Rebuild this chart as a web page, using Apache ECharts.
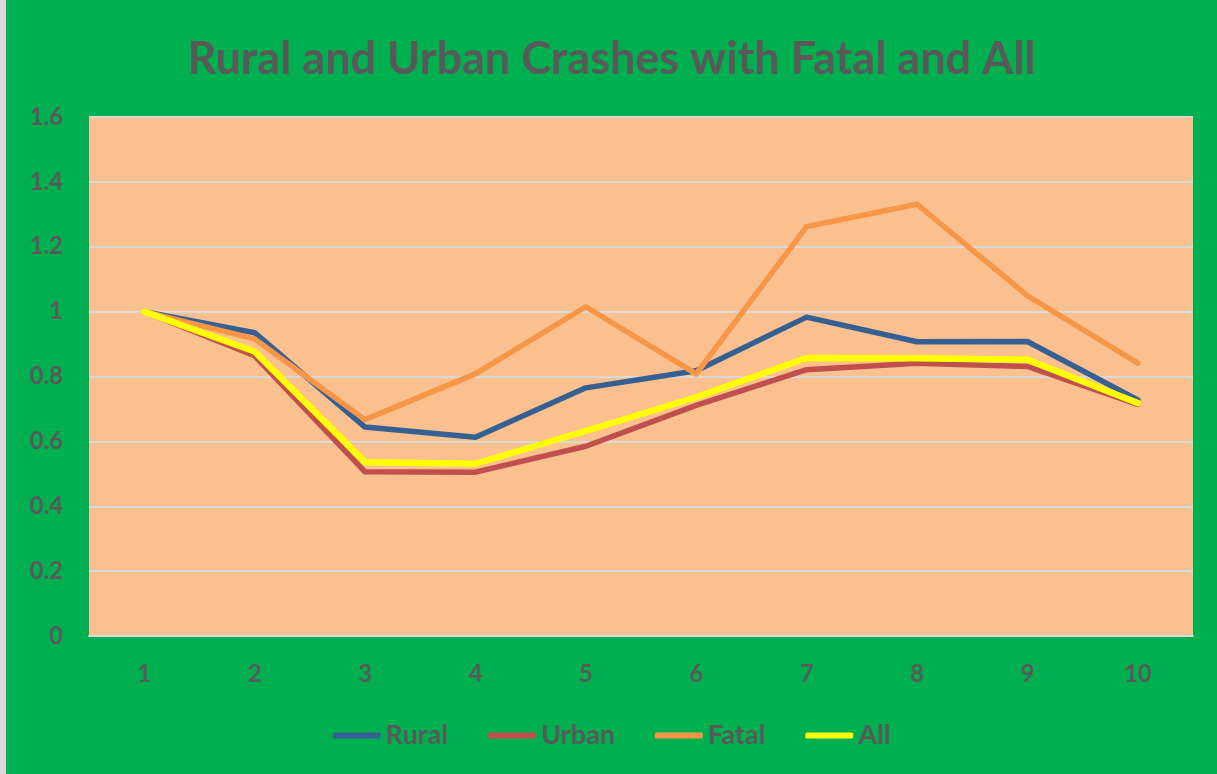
<!DOCTYPE html>
<html>
<head>
<meta charset="utf-8">
<script src="https://cdn.jsdelivr.net/npm/echarts@6/dist/echarts.min.js"></script>
<style>
  html, body { margin: 0; padding: 0; background: #00B050; }
  #chart { width: 1217px; height: 774px; box-sizing: border-box; border-left: 6px solid #D9D9D9; }
</style>
</head>
<body>
<div id="chart"></div>
<script>
const categories = ['1', '2', '3', '4', '5', '6', '7', '8', '9', '10'];
const rural = [1.0, 0.935, 0.644, 0.613, 0.765, 0.818, 0.983, 0.907, 0.908, 0.728];
const urban = [1.0, 0.864, 0.506, 0.505, 0.585, 0.711, 0.821, 0.841, 0.831, 0.714];
const fatal = [1.0, 0.916, 0.667, 0.808, 1.015, 0.808, 1.262, 1.331, 1.049, 0.841];
const all = [1.0, 0.877, 0.536, 0.531, 0.632, 0.736, 0.857, 0.856, 0.852, 0.718];

const textColor = '#595959';
const font = 'Lato';

const chart = echarts.init(document.getElementById('chart'));

const makeLine = (name, data, color, width, z) => ({
  name,
  type: 'line',
  data,
  symbol: 'none',
  z,
  lineStyle: { color, width, cap: 'round', join: 'round' },
  itemStyle: { color }
});

chart.setOption({
  backgroundColor: '#00B050',
  animation: false,
  title: {
    text: 'Rural and Urban Crashes with Fatal and All',
    left: 'center',
    top: 32,
    textStyle: { color: textColor, fontFamily: font, fontWeight: 'bold', fontSize: 45 }
  },
  grid: {
    left: 83,
    right: 24,
    top: 117,
    bottom: 138,
    show: true,
    backgroundColor: '#FAC090',
    borderWidth: 0
  },
  legend: {
    bottom: 20,
    left: 'center',
    itemWidth: 48,
    itemHeight: 6,
    itemGap: 40,
    icon: 'roundRect',
    data: ['Rural', 'Urban', 'Fatal', 'All'],
    textStyle: { color: textColor, fontFamily: font, fontWeight: 'bold', fontSize: 27 }
  },
  xAxis: {
    type: 'category',
    data: categories,
    boundaryGap: true,
    axisLine: { lineStyle: { color: '#D9D9D9', width: 2 } },
    axisTick: { show: false },
    axisLabel: { color: textColor, fontFamily: font, fontWeight: 'bold', fontSize: 24, margin: 26 }
  },
  yAxis: {
    type: 'value',
    min: 0,
    max: 1.6,
    interval: 0.2,
    axisLine: { show: false },
    axisTick: { show: false },
    splitLine: { lineStyle: { color: '#D9D9D9', width: 2 } },
    axisLabel: {
      color: textColor, fontFamily: font, fontWeight: 'bold', fontSize: 24, margin: 26,
      formatter: v => String(Math.round(v * 10) / 10)
    }
  },
  series: [
    makeLine('Rural', rural, '#376092', 5.5, 2),
    makeLine('Urban', urban, '#C0504D', 5.5, 3),
    makeLine('Fatal', fatal, '#F79646', 5.5, 4),
    makeLine('All', all, '#FFFF00', 6.5, 5)
  ]
});
</script>
</body>
</html>
